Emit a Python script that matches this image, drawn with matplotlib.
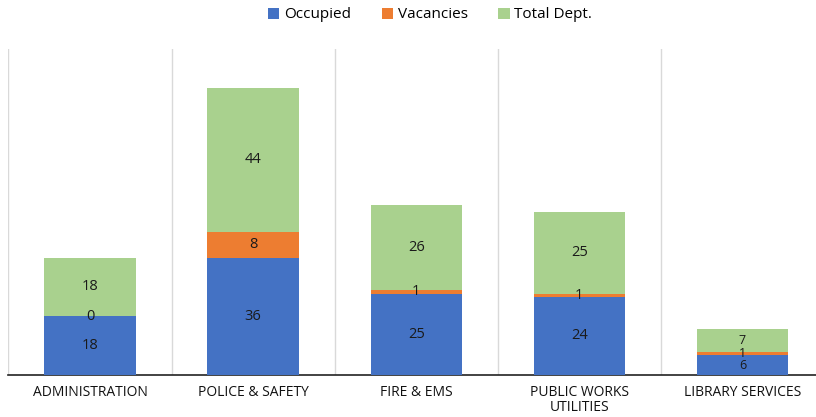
import matplotlib.pyplot as plt
import numpy as np

plt.rcParams['font.family'] = ['Open Sans', 'DejaVu Sans']

departments = ["ADMINISTRATION", "POLICE & SAFETY", "FIRE & EMS", "PUBLIC WORKS\nUTILITIES", "LIBRARY SERVICES"]
occupied = [18, 36, 25, 24, 6]
vacancies = [0, 8, 1, 1, 1]
total_dept = [18, 44, 26, 25, 7]

fig = plt.figure(figsize=(8.16, 4.17), dpi=100)
ax = fig.add_axes([0.0104, 0.1007, 0.9994, 0.7818])

x = np.arange(len(departments))
w = 0.56
occ = np.array(occupied)
vac = np.array(vacancies)
tot = np.array(total_dept)
stack = occ + vac + tot

b1 = ax.bar(x, occ, w, color='#4472C4', label='Occupied', zorder=3)
b2 = ax.bar(x, vac, w, bottom=occ, color='#ED7D31', label='Vacancies', zorder=3)
b3 = ax.bar(x, tot, w, bottom=occ + vac, color='#A9D18E', label='Total Dept.', zorder=3)

# short stacks get a slightly smaller label so the numbers don't collide
for bars, vals, base in [(b1, occ, 0 * occ), (b2, vac, occ), (b3, tot, occ + vac)]:
    for i, (rect, v, b) in enumerate(zip(bars, vals, base)):
        fs = 10.5 if stack[i] > 20 else 9
        ax.text(rect.get_x() + rect.get_width() / 2, b + v / 2, str(v),
                ha='center', va='center', fontsize=fs, color='#1a1a1a', zorder=4)

for xb in np.arange(-0.5, len(departments), 1.0):
    ax.axvline(xb, color='#D9D9D9', lw=1, zorder=1)

ax.set_xlim(-0.5, len(departments) - 0.5)
ax.set_ylim(0, 100)
ax.set_yticks([])
ax.set_xticks(x)
ax.set_xticklabels(departments, fontsize=10, color='#111111', linespacing=1.05)
ax.tick_params(axis='x', length=0, pad=7)
for s in ['top', 'right', 'left']:
    ax.spines[s].set_visible(False)
ax.spines['bottom'].set_color('#222222')
ax.spines['bottom'].set_linewidth(1.2)

fig.legend(loc='upper center', bbox_to_anchor=(0.527, 1.015), ncol=3, frameon=False,
           fontsize=11, handlelength=0.75, handleheight=0.75, handletextpad=0.3, columnspacing=2.0)

fig.savefig('out.png', dpi=100)
